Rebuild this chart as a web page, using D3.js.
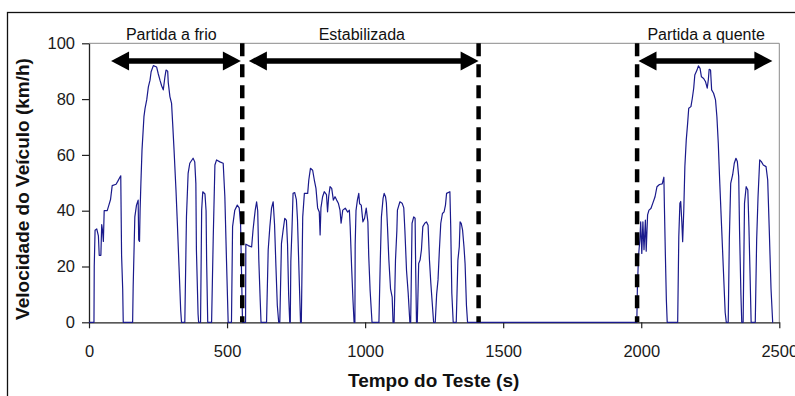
<!DOCTYPE html>
<html>
<head>
<meta charset="utf-8">
<script src="https://cdn.jsdelivr.net/npm/d3@7"></script>
<style>
  html, body { margin: 0; padding: 0; background: #fff; }
  svg { display: block; font-family: "Liberation Sans", Arial, sans-serif; }
</style>
</head>
<body>
<svg id="chart" width="795" height="396"></svg>
<script>
// ---- data (time in s, speed in km/h) ----
const coldTime  = [0,18,19,22,28,34,37,43,46,49,52,55,66,72,78,84,98,104,110,115,118,122,124,
  158,160,166,172,178,180,183,185,188,192,199,203,209,215,221,225,233,245,251,257,263,269,275,279,285,287,293,299,303,308,315,320,326,332,335,
  347,353,359,365,377,383,387,389,395,397,
  404,408,412,420,424,426,430,
  444,450,456,462,474,486,492,498,504,
  516,520,528,537,544,549,556];
const coldSpeed = [0,0,20,33,33.5,31,24,24,35,33,29,40,40,42,44,49,49.5,50.5,51.6,52.5,24,12,0,
  0,13,37.8,42,43.8,29.5,29,40,50,61.8,73.7,76.7,79.7,84.4,86.8,89.8,92,91.5,89,86.8,84.8,83.3,88,90.4,90,86,80.9,78.5,71.3,61.8,47.4,35.5,20,4.4,0,
  0,37.8,53.4,57,58.8,57.5,49.8,26,3,0,
  0,40.2,46.8,46,40,22,0,
  0,30.7,56.4,58.2,57.5,57,45,22,0,
  0,34.3,40.2,42,41,35,0];

const stabTime  = [567,568,577,589,594,598,602,607,611,615,620,623,
  643,649,655,661,667,672,677,682,687,
  691,697,703,709,715,719,723,727,
  729,731,735,739,745,751,755,760,766,
  769,774,780,792,796,802,810,816,822,828,834,837,840,846,852,860,864,868,873,879,885,891,897,903,909,913,919,928,937,943,946,951,956,960,
  963,964,967,972,977,980,986,992,998,1004,1010,1013,1018,1025,
  1050,1055,1059,1065,1069,1074,1077,1081,1086,1092,1098,1101,
  1105,1110,1115,1117,1126,1134,1140,1144,1150,1156,1162,
  1165,1170,1176,1181,1183,1186,
  1189,1194,1199,1204,1209,1216,1222,1228,1233,1238,1243,1248,
  1254,1259,1264,1269,1274,1280,1286,1291,1295,1307,1310,1314,1319,
  1330,1336,1341,1344,1348,1353,1358,1362,1367,1371];
const stabSpeed = [0,28,27.5,27,33,36.7,40.2,43.2,40,22.3,8,0,
  0,26,34.3,40.9,43.2,35,20,6,0,
  0,28.3,33,37.3,36.5,28,10,0,
  0,22,33,46.2,46.5,44,37,20,0,
  0,37.8,46.2,46.2,51,55.2,54.5,51,48,41,39.5,31.3,41,45,46.8,45.8,39.6,45,48.6,48,43.8,45,43.8,42.7,40.2,35.5,40.2,40.9,39.5,40.2,34,20,8,0,
  0,28,40,43.8,46.2,42.5,42,36,37.3,40.9,36,24,11.6,0,
  0,22.3,37.8,44.4,46.2,45,42.7,34.3,22.3,12,9,0,
  0,22.3,33,40.2,43.2,42.7,41,33,18.5,10.4,0,
  0,35.5,37.8,37.3,20,0,
  0,21.1,22.3,26,34.3,35.5,36,34.8,22.3,14,7,0,
  0,10,15.2,26,35.5,39,39.6,42,46.2,46.8,34.3,10.4,0,
  0,22.3,27.1,36,35.5,33,27.1,21.1,6,0];

const hotTime  = [1984,1986,1990,1995,1998,2002,2006,2010,2015,2018,2023,2028,2035,2042,2050,2057,2066,2076,2082,2084,2087,2091,2094,
  2132,2136,2140,2143,2147,2150,2154,2158,2163,2168,2172,2180,2185,2190,2194,2202,2207,2213,2218,2226,2233,2239,2243,2246,2251,2255,2262,2269,2274,2279,2284,2291,2297,2304,2308,
  2315,2319,2324,2331,2337,2343,2348,2353,2356,2361,2364,
  2369,2374,2380,2386,2390,2394,2398,
  2413,2418,2423,2429,2435,2442,2452,2458,2464,2470,2476,2477];
const hotSpeed = [0,12,23.5,29.6,36,24.7,36,26,36.6,25.5,38.5,40.2,40.8,42.7,45,48.6,49.4,49.6,52,41,26,8,0,
  0,30.7,42.7,43.3,36,28.9,40,55.8,65.3,71.3,76.7,77.3,80.3,83.9,88.6,90.4,91.9,91,88,87.4,86.2,83.9,87,90.7,90.4,83.3,82.1,79.7,73.7,64.2,51,34.3,20,3.5,0,
  0,29.5,49.8,52.8,57,58.8,57.6,52.2,33,10,0,
  0,42.7,48.6,47.4,34.3,17.6,0,
  0,29.5,45,58.2,57.6,56.4,55.8,51,32,12,0,0];

const xTicks = [0, 500, 1000, 1500, 2000, 2500];
const yTicks = [0, 20, 40, 60, 80, 100];
const phaseBoundaries = [555, 1411, 1985];
const phaseNames  = ["Partida a frio", "Estabilizada", "Partida a quente"];
const phaseLabelAt = [298, 988, 2235];
const arrowStart = [80, 579, 1990];
const arrowEnd   = [550, 1411, 2475];
const arrowLevel = 93.7;

// ---- layout ----
const svg = d3.select("#chart");
const m = { left: 89, top: 43.3, right: 779.3, bottom: 322.3 };
const x = d3.scaleLinear().domain([0, 2500]).range([m.left, m.right]);
const y = d3.scaleLinear().domain([0, 100]).range([m.bottom, m.top]);

// outer frame
svg.append("rect").attr("x", 7.5).attr("y", 12.5).attr("width", 820).attr("height", 420)
  .attr("fill", "none").attr("stroke", "#111").attr("stroke-width", 1.3);

// plot border (top/right grey)
svg.append("path")
  .attr("d", `M${m.left},${m.top}H${m.right}V${m.bottom}`)
  .attr("fill", "none").attr("stroke", "#8a8a8a").attr("stroke-width", 1);

// axes
const yAxis = svg.append("g").attr("transform", `translate(${m.left},0)`)
  .call(d3.axisLeft(y).tickValues(yTicks).tickFormat(d3.format("d")).tickSize(7).tickSizeOuter(0).tickPadding(7));
const xAxis = svg.append("g").attr("transform", `translate(0,${m.bottom})`)
  .call(d3.axisBottom(x).tickValues(xTicks).tickFormat(d3.format("d")).tickSize(6).tickSizeOuter(0).tickPadding(17));
[yAxis, xAxis].forEach(g => {
  g.selectAll("path.domain").attr("stroke", "#222").attr("stroke-width", 1.3);
  g.selectAll(".tick line").attr("stroke", "#222").attr("stroke-width", 1.2);
  g.selectAll(".tick text").attr("font-size", 16.5).attr("fill", "#1a1a1a")
    .attr("font-family", "'Liberation Sans', Arial, sans-serif");
});

// speed trace
const pts = [];
coldTime.forEach((t, i) => pts.push([t, coldSpeed[i]]));
pts.push([560, 0]);
stabTime.forEach((t, i) => pts.push([t, stabSpeed[i]]));
hotTime.forEach((t, i) => pts.push([t, hotSpeed[i]]));
const line = d3.line().x(d => x(d[0])).y(d => y(d[1]));
svg.append("path").datum(pts).attr("d", line)
  .attr("fill", "none").attr("stroke", "#1a1a8c").attr("stroke-width", 1.2)
  .attr("stroke-linejoin", "round");

// phase boundaries
svg.selectAll("line.phase").data(phaseBoundaries).join("line")
  .attr("class", "phase")
  .attr("x1", d => x(d)).attr("x2", d => x(d))
  .attr("y1", y(100)).attr("y2", y(0))
  .attr("stroke", "#000").attr("stroke-width", 4.5).attr("stroke-dasharray", "13,8");

// arrows
const ay = y(arrowLevel);
const headL = 18, headH = 9.5;
arrowStart.forEach((s, i) => {
  const x1 = x(s), x2 = x(arrowEnd[i]);
  svg.append("line").attr("x1", x1 + headL - 2).attr("x2", x2 - headL + 2)
    .attr("y1", ay).attr("y2", ay).attr("stroke", "#000").attr("stroke-width", 5.5);
  svg.append("path").attr("fill", "#000")
    .attr("d", `M${x1},${ay}L${x1 + headL},${ay - headH}L${x1 + headL},${ay + headH}Z`);
  svg.append("path").attr("fill", "#000")
    .attr("d", `M${x2},${ay}L${x2 - headL},${ay - headH}L${x2 - headL},${ay + headH}Z`);
});

// phase labels
svg.selectAll("text.phase").data(phaseNames).join("text")
  .attr("class", "phase")
  .attr("x", (d, i) => x(phaseLabelAt[i])).attr("y", y(100) - 3.3)
  .attr("text-anchor", "middle").attr("font-size", 16).attr("fill", "#111")
  .text(d => d);

// axis titles
svg.append("text").attr("x", (m.left + m.right) / 2 - 0.5).attr("y", 387)
  .attr("text-anchor", "middle").attr("font-size", 19).attr("font-weight", "bold").attr("fill", "#111")
  .text("Tempo do Teste (s)");
svg.append("text").attr("transform", `translate(29,189) rotate(-90)`)
  .attr("text-anchor", "middle").attr("font-size", 19).attr("font-weight", "bold").attr("fill", "#111")
  .text("Velocidade do Veículo (km/h)");
</script>
</body>
</html>
